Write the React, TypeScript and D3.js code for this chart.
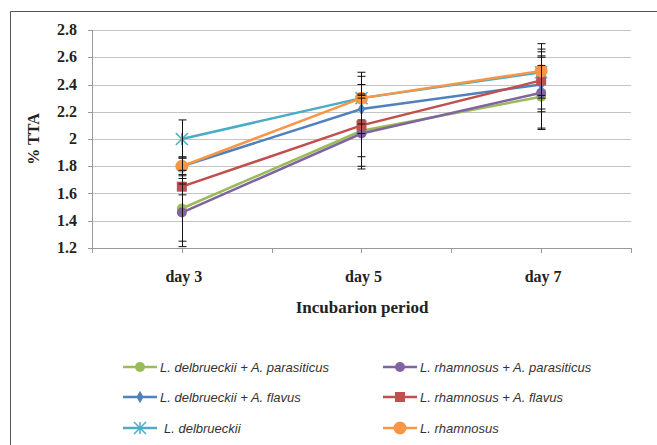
import React from "react";
import * as d3 from "d3";

const days = ["day 3", "day 5", "day 7"];
const yTicks = [1.2, 1.4, 1.6, 1.8, 2, 2.2, 2.4, 2.6, 2.8];

const seriesNames = [
  "L. delbrueckii + A. parasiticus",
  "L. rhamnosus + A. parasiticus",
  "L. delbrueckii + A. flavus",
  "L. rhamnosus + A. flavus",
  "L. delbrueckii",
  "L. rhamnosus",
];
const seriesColors = ["#9BBB59", "#8064A2", "#4F81BD", "#C0504D", "#4BACC6", "#F79646"];
const seriesMarkers = ["circle", "circle", "diamond", "square", "asterisk", "circle"];

const ldApValues = [1.49, 2.06, 2.31];
const lrApValues = [1.46, 2.04, 2.34];
const ldAfValues = [1.8, 2.22, 2.4];
const lrAfValues = [1.65, 2.1, 2.43];
const ldValues = [2.0, 2.3, 2.49];
const lrValues = [1.8, 2.3, 2.5];

const ldApErr = [0.28, 0.26, 0.23];
const lrApErr = [0.21, 0.26, 0.27];
const ldAfErr = [0.07, 0.18, 0.2];
const lrAfErr = [0.06, 0.23, 0.21];
const ldErr = [0.14, 0.16, 0.17];
const lrErr = [0.06, 0.19, 0.2];

const allValues = [ldApValues, lrApValues, ldAfValues, lrAfValues, ldValues, lrValues];
const allErr = [ldApErr, lrApErr, ldAfErr, lrAfErr, ldErr, lrErr];

const W = 657;
const H = 445;
const margin = { top: 30, right: 26, bottom: 197, left: 92 };

const serif = "'Liberation Serif', 'Times New Roman', serif";
const sans = "'Liberation Sans', Arial, sans-serif";

function Marker({ kind, color, x, y }: { kind: string; color: string; x: number; y: number }) {
  if (kind === "square") {
    const p = d3.symbol(d3.symbolSquare, 100)();
    return <path d={p || ""} transform={`translate(${x},${y})`} fill={color} />;
  }
  if (kind === "diamond") {
    const p = d3.symbol(d3.symbolDiamond, 45)();
    return <path d={p || ""} transform={`translate(${x},${y})`} fill={color} />;
  }
  if (kind === "asterisk") {
    const r = 6;
    return (
      <g transform={`translate(${x},${y})`} stroke={color} strokeWidth={1.5}>
        <line x1={-r} y1={-r} x2={r} y2={r} />
        <line x1={-r} y1={r} x2={r} y2={-r} />
        <line x1={0} y1={-r} x2={0} y2={r} />
      </g>
    );
  }
  const r = color === "#F79646" ? 6.5 : 5;
  return <circle cx={x} cy={y} r={r} fill={color} />;
}

export default function App() {
  const x = d3
    .scaleBand<string>()
    .domain(days)
    .range([margin.left, W - margin.right])
    .paddingInner(0)
    .paddingOuter(0);
  const y = d3.scaleLinear().domain([1.2, 2.8]).range([H - margin.bottom, margin.top]);
  const bw = x.bandwidth();
  const cx = (d: string) => (x(d) as number) + bw / 2;

  const line = d3
    .line<number>()
    .x((_, i) => cx(days[i]))
    .y((v) => y(v));

  const xTickPos: number[] = [];
  days.forEach((d) => {
    xTickPos.push(x(d) as number);
    xTickPos.push(cx(d));
  });
  xTickPos.push(W - margin.right);

  const legendX = [123, 383];
  const legendY = [367, 397, 428];

  return (
    <svg width={W} height={H} style={{ position: "absolute", left: 0, top: 0 }}>
      <rect x={0} y={0} width={W} height={H} fill="#fff" />
      {/* outer frame */}
      <line x1={10.5} y1={11.5} x2={W} y2={11.5} stroke="#555" strokeWidth={1} />
      <line x1={10.5} y1={11.5} x2={10.5} y2={H} stroke="#555" strokeWidth={1} />

      {/* gridlines */}
      {yTicks.map((t) => (
        <line
          key={t}
          x1={margin.left}
          x2={W - margin.right}
          y1={Math.round(y(t)) + 0.5}
          y2={Math.round(y(t)) + 0.5}
          stroke={t === 1.2 ? "#9a9a9a" : "#c4c4c4"}
          strokeWidth={1}
        />
      ))}
      <line
        x1={margin.left + 0.5}
        x2={margin.left + 0.5}
        y1={y(2.8)}
        y2={y(1.2)}
        stroke="#9a9a9a"
      />
      {yTicks.map((t) => (
        <line
          key={"yt" + t}
          x1={margin.left - 4}
          x2={margin.left}
          y1={Math.round(y(t)) + 0.5}
          y2={Math.round(y(t)) + 0.5}
          stroke="#9a9a9a"
        />
      ))}
      {xTickPos.map((p, i) => (
        <line
          key={"xt" + i}
          x1={Math.round(p) + 0.5}
          x2={Math.round(p) + 0.5}
          y1={y(1.2)}
          y2={y(1.2) + 5}
          stroke="#9a9a9a"
        />
      ))}

      {/* y tick labels */}
      {yTicks.map((t) => (
        <text
          key={"yl" + t}
          x={77}
          y={y(t) + 5}
          textAnchor="end"
          fontFamily={serif}
          fontWeight="bold"
          fontSize={16}
          fill="#222"
        >
          {String(t)}
        </text>
      ))}

      <text
        transform={`translate(39,139) rotate(-90)`}
        textAnchor="middle"
        fontFamily={serif}
        fontWeight="bold"
        fontSize={16}
        fill="#222"
      >
        % TTA
      </text>

      {days.map((d) => (
        <text
          key={d}
          x={cx(d) + 2}
          y={282}
          textAnchor="middle"
          fontFamily={serif}
          fontWeight="bold"
          fontSize={16}
          fill="#222"
        >
          {d}
        </text>
      ))}
      <text
        x={362}
        y={313}
        textAnchor="middle"
        fontFamily={serif}
        fontWeight="bold"
        fontSize={17}
        fill="#222"
      >
        Incubarion period
      </text>

      {/* series lines and markers */}
      {allValues.map((vals, s) => (
        <g key={"s" + s}>
          <path d={line(vals) || ""} fill="none" stroke={seriesColors[s]} strokeWidth={2.5} />
          {vals.map((v, i) => (
            <Marker key={i} kind={seriesMarkers[s]} color={seriesColors[s]} x={cx(days[i])} y={y(v)} />
          ))}
        </g>
      ))}

      {/* error bars */}
      {allValues.map((vals, s) =>
        vals.map((v, i) => {
          const px = Math.round(cx(days[i])) + 0.5;
          const e = allErr[s][i];
          const y1 = y(v - e);
          const y2 = y(v + e);
          return (
            <g key={`e${s}-${i}`} stroke="#111" strokeWidth={1}>
              <line x1={px} x2={px} y1={y1} y2={y2} />
              <line x1={px - 4} x2={px + 4} y1={y1} y2={y1} />
              <line x1={px - 4} x2={px + 4} y1={y2} y2={y2} />
            </g>
          );
        })
      )}

      {/* legend */}
      {seriesNames.map((name, s) => {
        const col = s % 2;
        const row = Math.floor(s / 2);
        const lx = legendX[col];
        const ly = legendY[row];
        return (
          <g key={"lg" + s}>
            <line x1={lx} x2={lx + 34} y1={ly} y2={ly} stroke={seriesColors[s]} strokeWidth={2.5} />
            <Marker kind={seriesMarkers[s]} color={seriesColors[s]} x={lx + 17} y={ly} />
            <text
              x={lx + (s === 4 ? 41 : 37)}
              y={ly + 4.5}
              fontFamily={sans}
              fontStyle="italic"
              fontSize={13}
              fill="#333"
            >
              {name}
            </text>
          </g>
        );
      })}
    </svg>
  );
}
